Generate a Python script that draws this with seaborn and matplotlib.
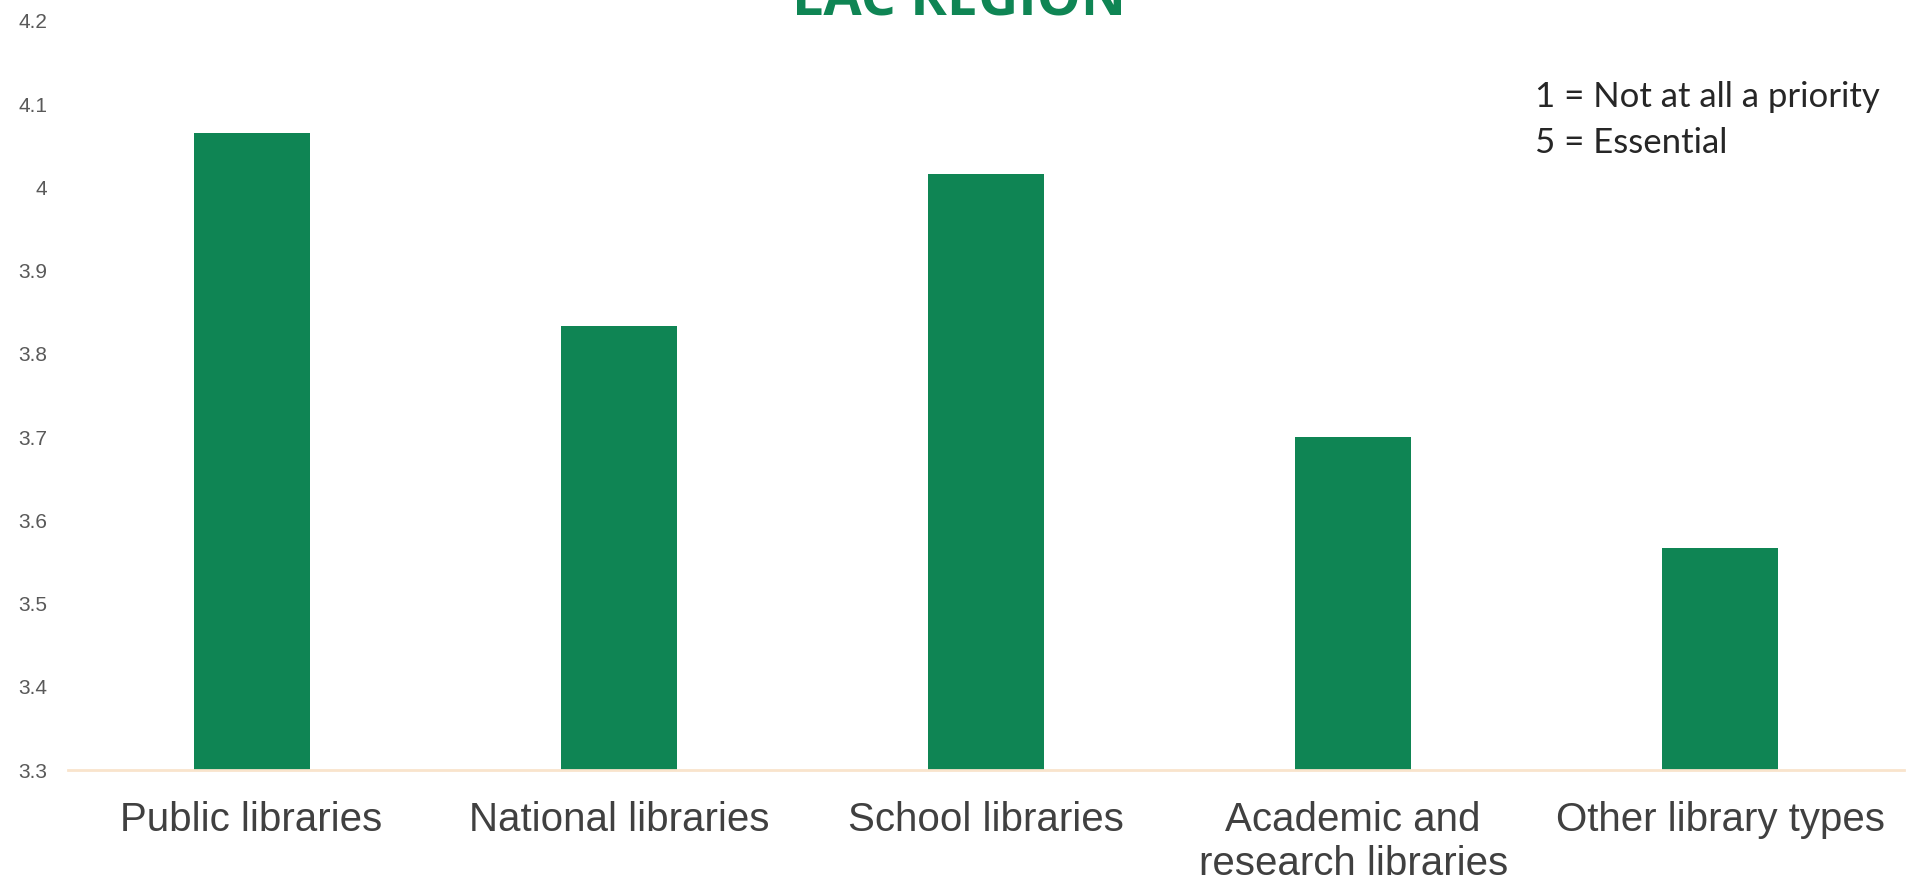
import matplotlib
matplotlib.use("Agg")
import matplotlib.pyplot as plt
import seaborn as sns
import pandas as pd

# Mean priority score by library type (scale 1-5)
categories = ["Public libraries", "National libraries", "School libraries",
              "Academic and\nresearch libraries", "Other library types"]
scores = [4.066, 3.833, 4.016, 3.700, 3.567]
y_ticks = [3.3, 3.4, 3.5, 3.6, 3.7, 3.8, 3.9, 4.0, 4.1, 4.2]
y_tick_labels = ["3.3", "3.4", "3.5", "3.6", "3.7", "3.8", "3.9", "4", "4.1", "4.2"]
title = "LAC REGION"
scale_note = ["1 = Not at all a priority", "5 = Essential"]

GREEN = "#0F8554"

sns.set_theme(style="white")
plt.rcParams["font.family"] = ["Liberation Sans", "DejaVu Sans"]

df = pd.DataFrame({"type": categories, "score": scores})

fig = plt.figure(figsize=(19.07, 8.83), dpi=100)
ax = fig.add_axes([68 / 1907, 1 - 770 / 883, (1904 - 68) / 1907, (770 - 21) / 883])

sns.barplot(data=df, x="type", y="score", color=GREEN, saturation=1,
            width=0.316, ax=ax, edgecolor="none")

ax.set_ylim(3.3, 4.2)
ax.set_xlim(-0.5, 4.5)
ax.set_yticks(y_ticks)
ax.set_yticklabels(y_tick_labels, fontsize=15, color="#595959")
ax.tick_params(axis="y", length=0, pad=15)
ax.tick_params(axis="x", length=0, pad=22)
for lbl in ax.get_xticklabels():
    lbl.set_fontsize(29)
    lbl.set_color("#404040")
    lbl.set_linespacing(1.2)
ax.set_xlabel("")
ax.set_ylabel("")

for side in ["top", "right", "left"]:
    ax.spines[side].set_visible(False)
ax.spines["bottom"].set_color("#F9E4CC")
ax.spines["bottom"].set_linewidth(2)

fig.text(0.5 + 5 / 1907, 1 - 16 / 883, title, ha="center", va="baseline",
         fontsize=40, fontweight="bold", color=GREEN, family=["Open Sans", "DejaVu Sans"])

fig.text(1535 / 1907, 1 - 97 / 883, scale_note[0], ha="left", va="center",
         fontsize=25, color="#262626", family=["Lato", "DejaVu Sans"])
fig.text(1535 / 1907, 1 - 143 / 883, scale_note[1], ha="left", va="center",
         fontsize=25, color="#262626", family=["Lato", "DejaVu Sans"])

fig.savefig("out.png", dpi=100)
